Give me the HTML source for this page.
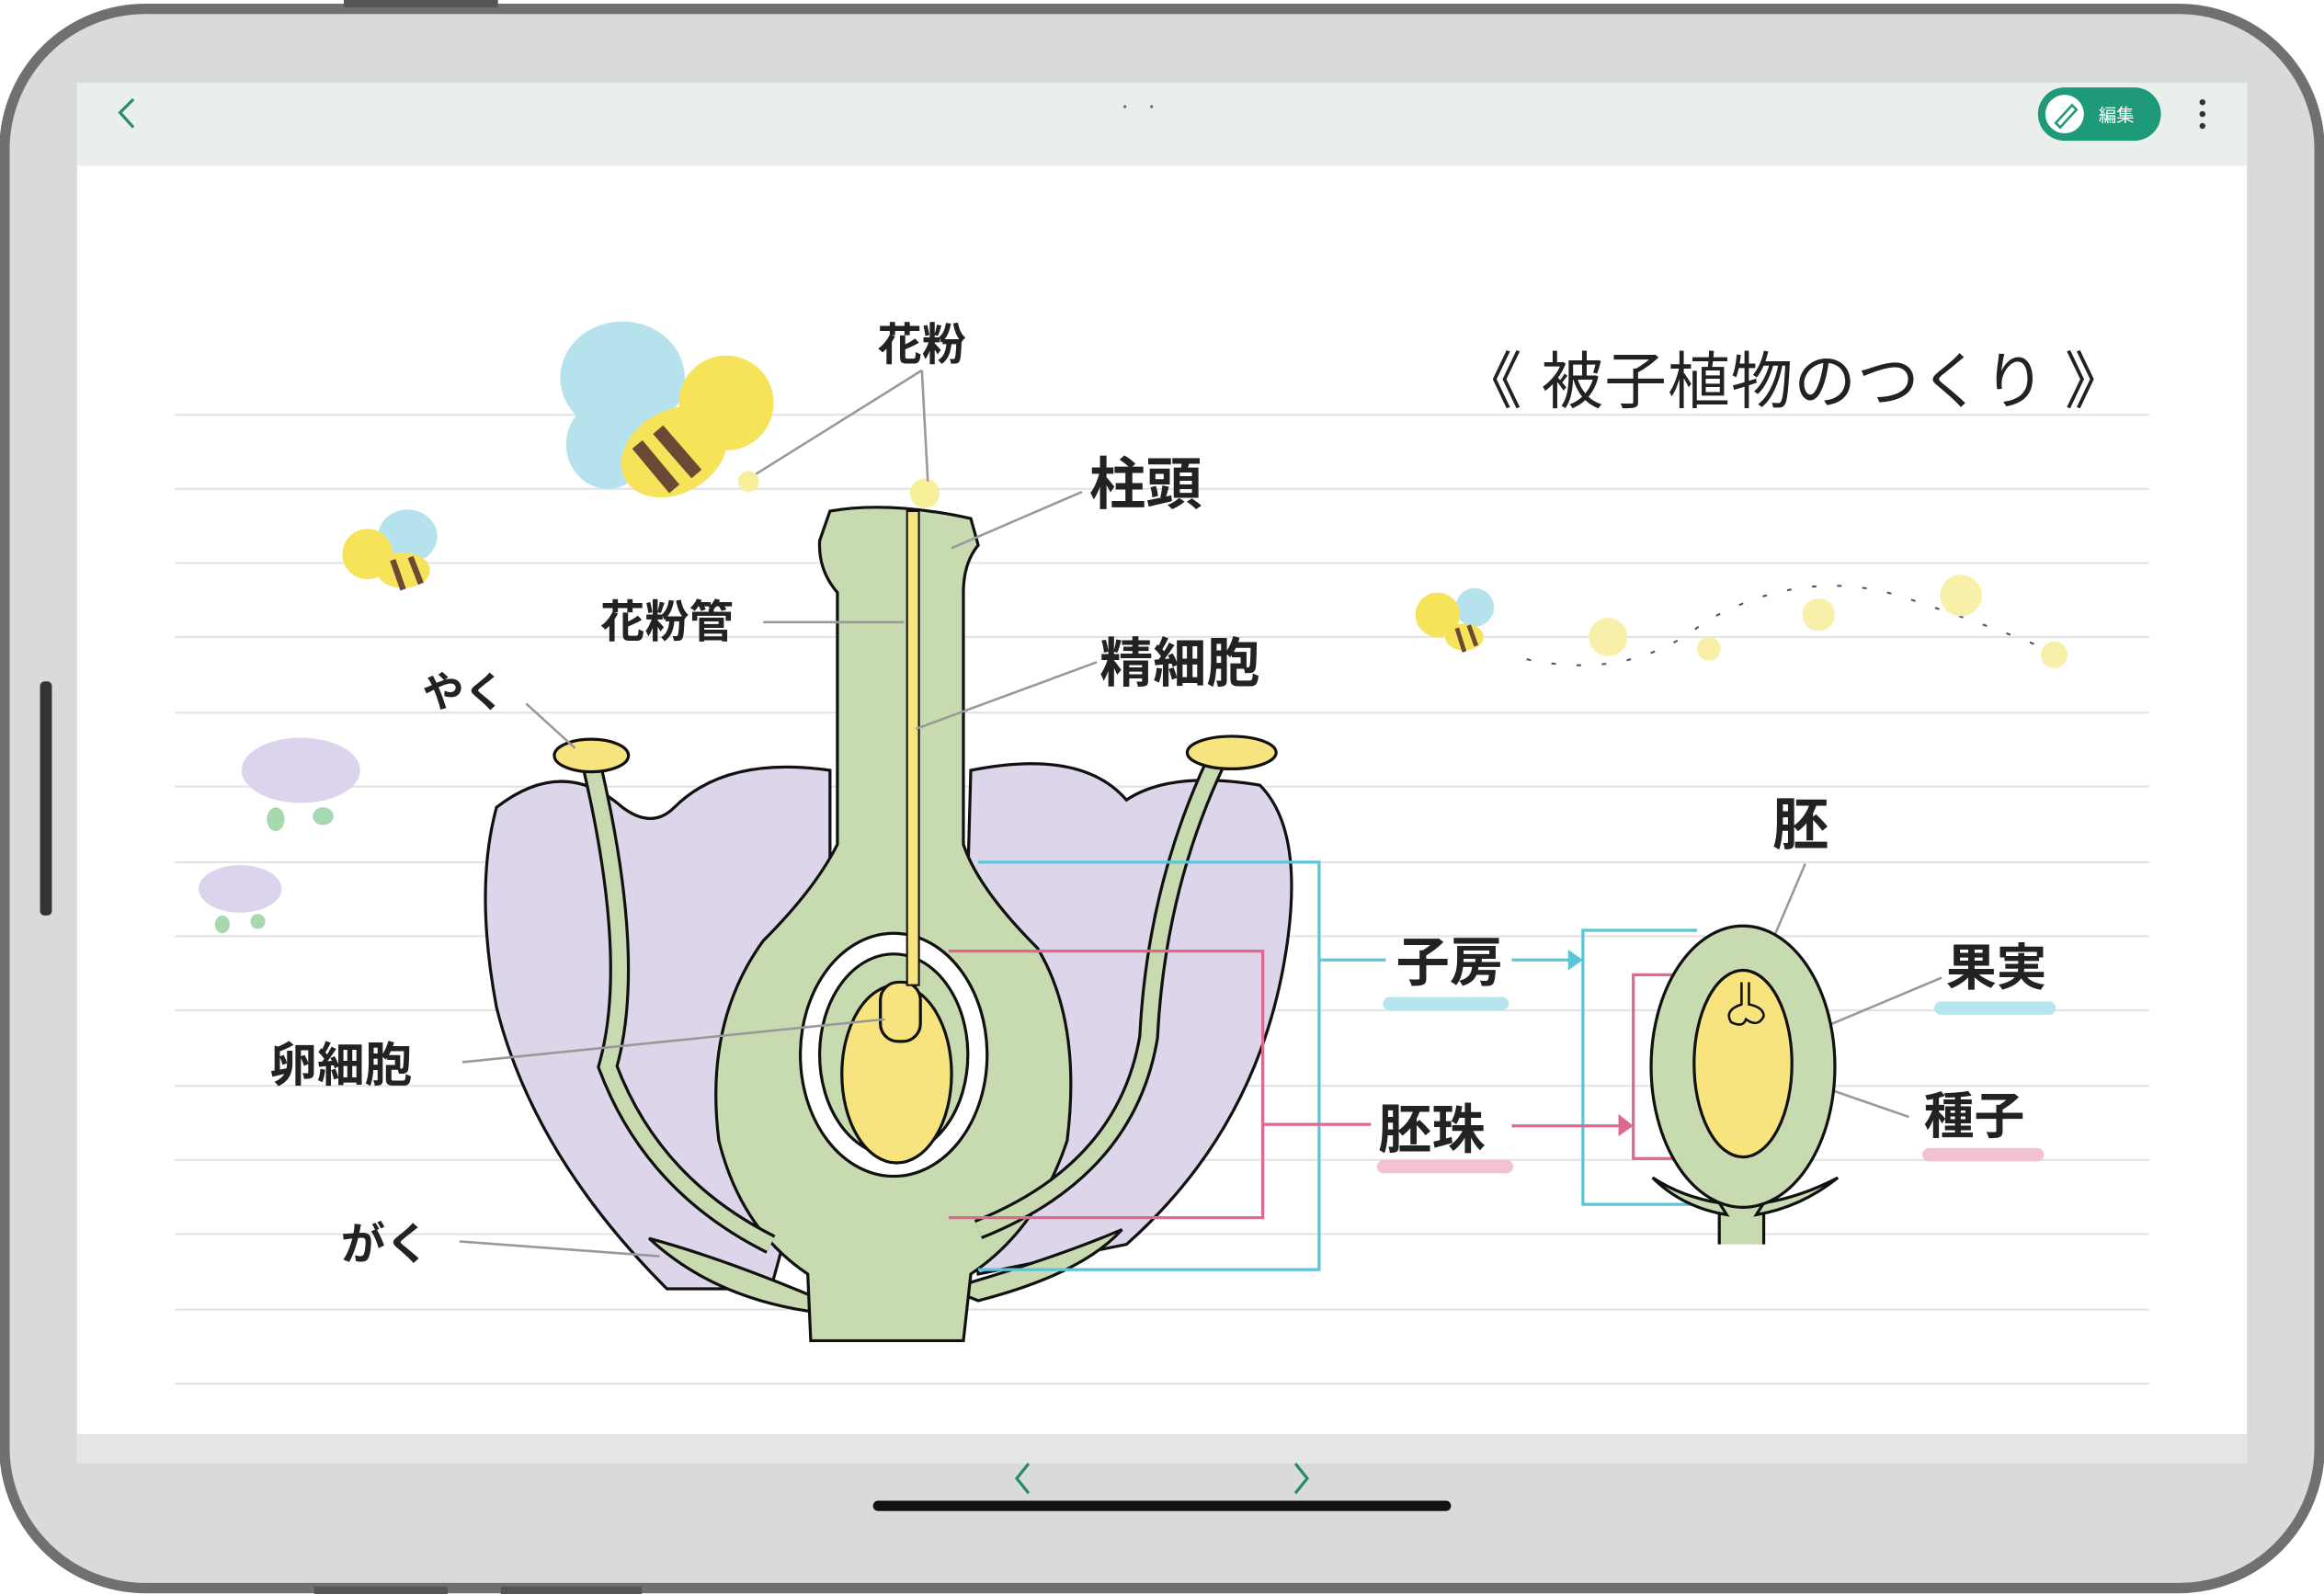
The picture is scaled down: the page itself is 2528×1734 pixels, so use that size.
<!DOCTYPE html>
<html><head><meta charset="utf-8"><style>
html,body{margin:0;padding:0;background:#fff;}
svg{display:block;}
text{font-family:"Liberation Sans","Noto Sans CJK JP",sans-serif;font-weight:bold;fill:#222;}
</style></head><body>
<svg width="2528" height="1734" viewBox="0 0 1568 1076" preserveAspectRatio="none" xmlns="http://www.w3.org/2000/svg">
<rect x="0" y="0" width="1568" height="1076" fill="#fff"/>
<rect x="3" y="6" width="1562" height="1066" rx="95" fill="#d9dbd9" stroke="#707070" stroke-width="7"/>
<rect x="232" y="0" width="104" height="5" fill="#555"/>
<rect x="212" y="1071" width="90" height="5" fill="#555"/>
<rect x="338" y="1071" width="95" height="5" fill="#555"/>
<rect x="27" y="460" width="8" height="158" rx="3" fill="#333"/>
<rect x="52" y="56" width="1464" height="931" fill="#fff"/>
<rect x="52" y="56" width="1464" height="56" fill="#e9f0ec"/>
<rect x="52" y="968" width="1464" height="20" fill="#e4e6e4"/>
<path d="M90 67 L81 76 L90 86" fill="none" stroke="#2a8a6e" stroke-width="2"/>
<circle cx="759" cy="72" r="1" fill="#666"/><circle cx="777" cy="72" r="1" fill="#666"/>
<rect x="1375" y="59" width="83" height="36" rx="18" fill="#1f9a78"/>
<circle cx="1393" cy="77" r="13" fill="#fff"/>
<path d="M1387 83 L1398 71 L1401 74 L1390 86 Z" fill="none" stroke="#1f9a78" stroke-width="1.6"/>
<text x="1416" y="82" font-size="12" style="fill:#fff;font-weight:normal">編集</text>
<circle cx="1486" cy="69" r="2" fill="#333"/><circle cx="1486" cy="77" r="2" fill="#333"/><circle cx="1486" cy="85" r="2" fill="#333"/>
<path d="M694 988 L686 998 L694 1008" fill="none" stroke="#2a8a6e" stroke-width="2"/>
<path d="M874 988 L882 998 L874 1008" fill="none" stroke="#2a8a6e" stroke-width="2"/>
<rect x="589" y="1013" width="390" height="7" rx="3.5" fill="#111"/>
<g stroke="#e3e3e3" stroke-width="1.3">
<line x1="118" y1="280" x2="1450" y2="280"/><line x1="118" y1="330" x2="1450" y2="330"/>
<line x1="118" y1="380" x2="1450" y2="380"/><line x1="118" y1="430" x2="1450" y2="430"/>
<line x1="118" y1="481" x2="1450" y2="481"/><line x1="118" y1="531" x2="1450" y2="531"/>
<line x1="118" y1="582" x2="1450" y2="582"/><line x1="118" y1="632" x2="1450" y2="632"/>
<line x1="118" y1="682" x2="1450" y2="682"/><line x1="118" y1="733" x2="1450" y2="733"/>
<line x1="118" y1="783" x2="1450" y2="783"/><line x1="118" y1="833" x2="1450" y2="833"/>
<line x1="118" y1="884" x2="1450" y2="884"/><line x1="118" y1="934" x2="1450" y2="934"/>
</g>
<text x="985" y="272" font-size="42" textLength="450" lengthAdjust="spacing" style="font-weight:normal">《 被子植物のつくり 》</text>
<g>
<ellipse cx="420" cy="255" rx="42" ry="38" fill="#b5e2ec"/>
<ellipse cx="410" cy="300" rx="28" ry="30" fill="#b5e2ec"/>
<ellipse cx="455" cy="305" rx="38" ry="28" fill="#f6e35a" transform="rotate(-30 455 305)"/>
<circle cx="490" cy="272" r="32" fill="#f6e35a"/>
<path d="M430 300 L455 330 M444 290 L470 320" stroke="#6b4a35" stroke-width="9"/>
<circle cx="505" cy="325" r="7" fill="#f8ef9a"/>
<ellipse cx="275" cy="362" rx="20" ry="18" fill="#b5e2ec"/>
<circle cx="248" cy="374" r="17" fill="#f6e35a"/>
<ellipse cx="272" cy="385" rx="18" ry="12" fill="#f6e35a"/>
<path d="M265 378 L272 398 M277 376 L284 394" stroke="#6b4a35" stroke-width="4"/>
<circle cx="995" cy="410" r="13" fill="#b5e2ec"/>
<circle cx="970" cy="415" r="15" fill="#f6e35a"/>
<ellipse cx="988" cy="430" rx="13" ry="9" fill="#f6e35a"/>
<path d="M983 424 L988 440 M991 422 L996 436" stroke="#6b4a35" stroke-width="3"/>
<path d="M1030 445 Q1100 460 1150 420 Q1220 380 1290 405 Q1350 425 1385 440" fill="none" stroke="#555" stroke-width="1.3" stroke-dasharray="3 14"/>
<circle cx="1085" cy="430" r="13" fill="#f8f0a8"/><circle cx="1153" cy="438" r="8" fill="#f8f0a8"/>
<circle cx="1227" cy="415" r="11" fill="#f8f0a8"/><circle cx="1323" cy="402" r="14" fill="#f8f0a8"/>
<circle cx="1386" cy="442" r="9" fill="#f8f0a8"/>
</g>
<ellipse cx="203" cy="520" rx="40" ry="22" fill="#dcd4ec"/>
<ellipse cx="186" cy="553" rx="6" ry="8" fill="#a8d8b0"/><ellipse cx="218" cy="551" rx="7" ry="6" fill="#a8d8b0"/>
<ellipse cx="162" cy="600" rx="28" ry="16" fill="#dcd4ec"/>
<ellipse cx="150" cy="624" rx="5" ry="6" fill="#a8d8b0"/><ellipse cx="174" cy="622" rx="5" ry="5" fill="#a8d8b0"/>
<path d="M335 545 Q380 510 420 545 Q440 560 455 545 Q490 510 560 520 L560 700 Q540 800 520 870 L450 870 Q360 780 335 680 Q320 600 335 545 Z" fill="#ddd5ea" stroke="#111" stroke-width="2"/>
<path d="M655 520 Q730 505 760 540 Q790 520 850 530 Q880 560 868 640 Q850 760 760 840 L660 860 L650 700 Z" fill="#ddd5ea" stroke="#111" stroke-width="2"/>
<path d="M438 836 Q490 850 560 880 L545 885 Q480 875 438 836 Z" fill="#c8dbb0" stroke="#111" stroke-width="2"/>
<path d="M757 830 Q710 850 640 870 L660 878 Q730 860 757 830 Z" fill="#c8dbb0" stroke="#111" stroke-width="2"/>
<path d="M560 345 Q600 338 655 350 L660 368 Q650 380 650 400 L650 570 Q660 600 700 640 Q730 690 720 770 Q700 830 655 860 L650 905 L547 905 L545 860 Q500 830 485 770 Q475 690 515 635 Q550 600 565 570 L565 400 Q552 385 553 365 Z" fill="#c8dbb0" stroke="#111" stroke-width="2"/>
<ellipse cx="603" cy="712" rx="63" ry="82" fill="#fff" stroke="#111" stroke-width="2"/>
<ellipse cx="603" cy="712" rx="50" ry="68" fill="#c8dbb0" stroke="#111" stroke-width="2"/>
<ellipse cx="605" cy="725" rx="37" ry="60" fill="#f7e47e" stroke="#111" stroke-width="2"/>
<rect x="594" y="663" width="27" height="40" rx="12" fill="#f7e47e" stroke="#111" stroke-width="2"/>
<rect x="612" y="345" width="8" height="320" fill="#f7e47e" stroke="#111" stroke-width="1.3"/>
<circle cx="624" cy="333" r="10" fill="#f8ef9a"/>
<path d="M400 520 Q430 650 410 720 Q440 800 520 840" fill="none" stroke="#111" stroke-width="14"/>
<path d="M400 520 Q430 650 410 720 Q440 800 520 840" fill="none" stroke="#c8dbb0" stroke-width="10"/>
<path d="M820 515 Q780 600 775 700 Q760 790 660 830" fill="none" stroke="#111" stroke-width="14"/>
<path d="M820 515 Q780 600 775 700 Q760 790 660 830" fill="none" stroke="#c8dbb0" stroke-width="10"/>
<ellipse cx="399" cy="510" rx="25" ry="11" fill="#f7e47e" stroke="#111" stroke-width="2"/>
<ellipse cx="831" cy="508" rx="30" ry="11" fill="#f7e47e" stroke="#111" stroke-width="2"/>
<g stroke="#999" stroke-width="1.6" fill="none">
<path d="M622 250 L510 320 M622 250 L626 325"/>
<line x1="730" y1="332" x2="642" y2="370"/>
<line x1="515" y1="420" x2="610" y2="420"/>
<line x1="740" y1="447" x2="618" y2="492"/>
<line x1="355" y1="475" x2="388" y2="505"/>
<line x1="312" y1="717" x2="597" y2="688"/>
<line x1="310" y1="838" x2="445" y2="848"/>
<line x1="1218" y1="583" x2="1180" y2="672"/>
<line x1="1310" y1="660" x2="1222" y2="697"/>
<line x1="1288" y1="754" x2="1190" y2="720"/>
</g>
<g fill="none" stroke="#5bc4d6" stroke-width="2">
<path d="M660 582 L890 582 L890 857 L660 857 M890 648 L935 648"/>
<path d="M1020 648 L1060 648"/>
<path d="M1145 628 L1068 628 L1068 813 L1150 813"/>
</g>
<path d="M1058 641 L1068 648 L1058 655 Z" fill="#5bc4d6"/>
<g fill="none" stroke="#e0688f" stroke-width="2">
<path d="M640 642 L852 642 L852 822 L640 822 M852 759 L925 759"/>
<path d="M1020 760 L1092 760"/>
<path d="M1170 658 L1102 658 L1102 782 L1160 782"/>
</g>
<path d="M1092 752 L1102 760 L1092 767 Z" fill="#e0688f"/>
<!-- fruit -->
<path d="M1160 805 L1160 840 L1190 840 L1190 805 Z" fill="#c8dbb0"/>
<path d="M1160 818 L1160 840 M1190 818 L1190 840" stroke="#111" stroke-width="2"/>
<path d="M1115 795 Q1135 815 1165 820 L1160 812 Q1135 808 1115 795 Z" fill="#c8dbb0" stroke="#111" stroke-width="2"/>
<path d="M1240 795 Q1215 815 1185 820 L1190 812 Q1215 808 1240 795 Z" fill="#c8dbb0" stroke="#111" stroke-width="2"/>
<ellipse cx="1176" cy="720" rx="62" ry="95" fill="#c8dbb0" stroke="#111" stroke-width="2"/>
<ellipse cx="1176" cy="718" rx="33" ry="63" fill="#f7e47e" stroke="#111" stroke-width="2"/>
<path d="M1175 663 L1175 678 Q1163 682 1168 690 Q1176 694 1178 688 Q1186 694 1190 686 Q1190 680 1180 678 L1180 663" fill="#f7e47e" stroke="#111" stroke-width="1.6"/>
<text x="592" y="243" font-size="30">花粉</text>
<text x="735" y="340" font-size="38">柱頭</text>
<text x="405" y="430" font-size="30">花粉管</text>
<text x="742" y="460" font-size="36">精細胞</text>
<text x="285" y="477" font-size="28">やく</text>
<text x="182" y="730" font-size="32">卵細胞</text>
<text x="230" y="850" font-size="30">がく</text>
<text x="942" y="662" font-size="36">子房</text>
<rect x="933" y="673" width="85" height="9" rx="4.5" fill="#b5e6ee"/>
<text x="930" y="775" font-size="36">胚珠</text>
<rect x="929" y="783" width="92" height="9" rx="4.5" fill="#f2c2d2"/>
<text x="1196" y="570" font-size="38">胚</text>
<text x="1313" y="665" font-size="34">果実</text>
<rect x="1305" y="676" width="82" height="9" rx="4.5" fill="#b5e6ee"/>
<text x="1298" y="765" font-size="34">種子</text>
<rect x="1297" y="775" width="82" height="9" rx="4.5" fill="#f2c2d2"/>
</svg>
</body></html>
